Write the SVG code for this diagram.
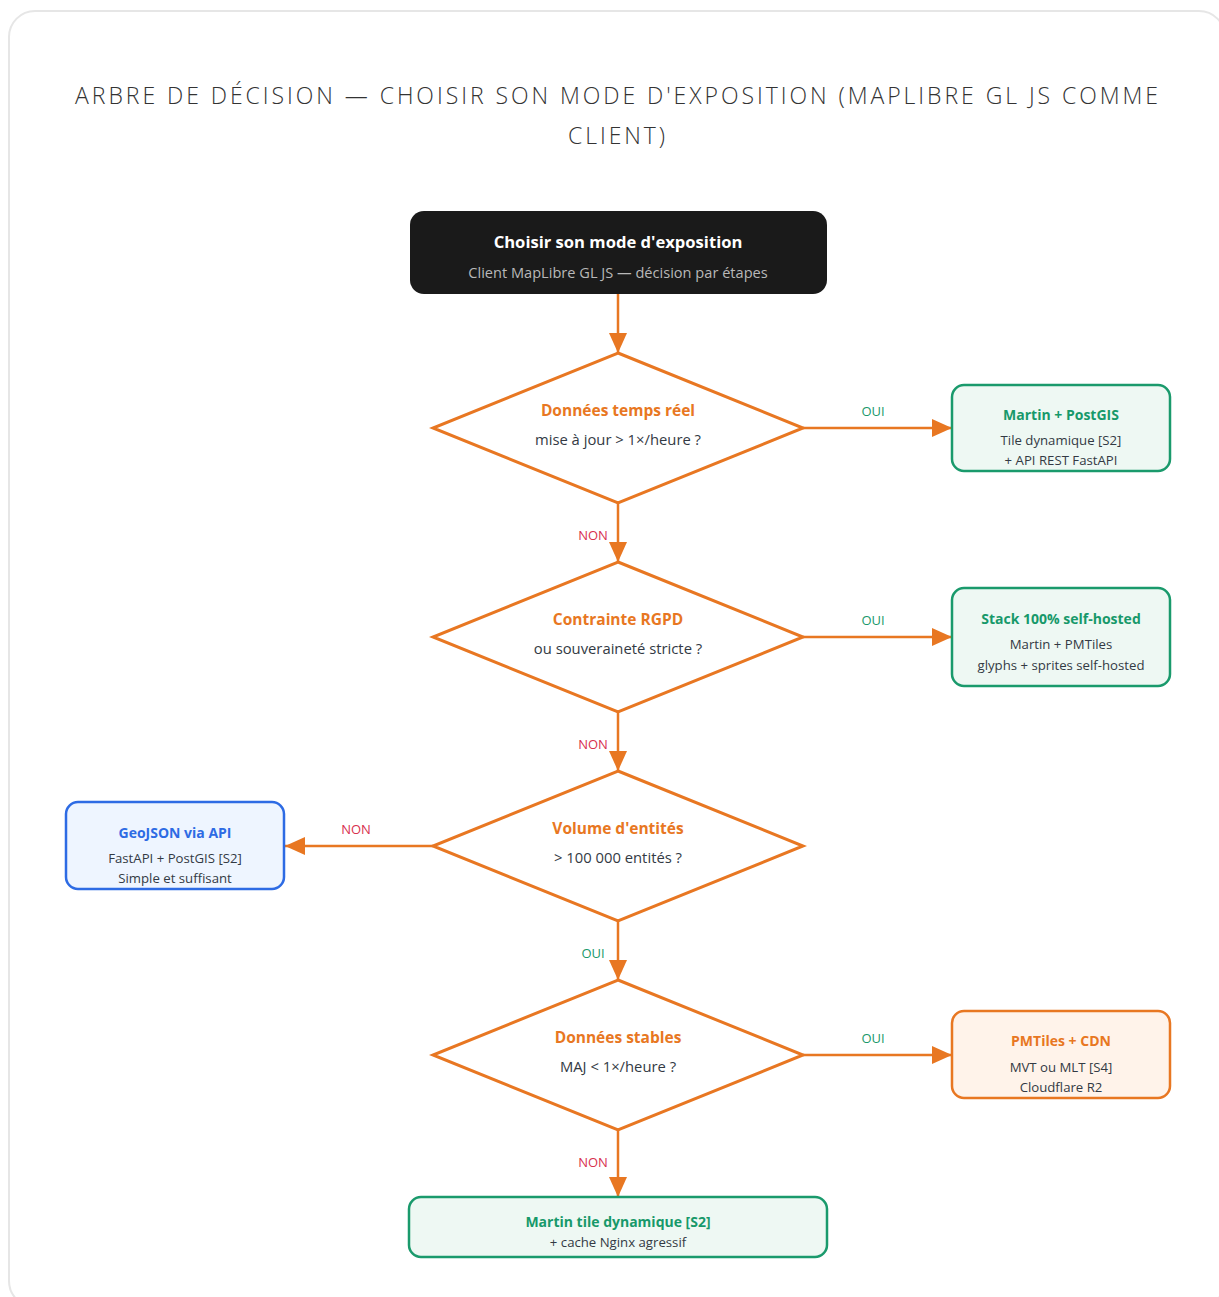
<svg xmlns="http://www.w3.org/2000/svg" width="1219" height="1297" viewBox="0 0 1219 1297">
<defs>
<style>
text{font-family:"Open Sans","Noto Sans","Liberation Sans",sans-serif;text-anchor:middle}
.title{font-size:23px;font-weight:300;fill:#333;letter-spacing:2.95px}
.dia{fill:#fff;stroke:#e87722;stroke-width:3;stroke-linejoin:miter}
.dq{font-size:15.5px;font-weight:700;fill:#e87722}
.ds{font-size:14.8px;fill:#333a44}
.bt{font-size:14px;font-weight:700}
.bs{font-size:13.2px;fill:#333a44}
.edge{stroke:#e87722;stroke-width:2.5;fill:none}
.oui{font-size:13px;fill:#18996a}
.non{font-size:13px;fill:#d8304e}
.green{fill:#eef8f3;stroke:#1a9a6c;stroke-width:2.5}
.gt{fill:#17996a}
</style>
<marker id="ah" markerUnits="userSpaceOnUse" markerWidth="20" markerHeight="18" refX="20" refY="9" orient="auto">
<path d="M0,0 L20,9 L0,18 Z" fill="#e87722"/>
</marker>
</defs>
<rect x="9" y="11" width="1216" height="1296" rx="26" fill="#fff" stroke="#e6e6e6" stroke-width="2"/>
<text class="title" x="618" y="104">ARBRE DE DÉCISION — CHOISIR SON MODE D'EXPOSITION (MAPLIBRE GL JS COMME</text>
<text class="title" x="618" y="144">CLIENT)</text>

<g id="connectors">
<line class="edge" x1="618" y1="294" x2="618" y2="353" marker-end="url(#ah)"/>
<line class="edge" x1="803" y1="428" x2="952" y2="428" marker-end="url(#ah)"/>
<text class="oui" x="873" y="416">OUI</text>
<line class="edge" x1="618" y1="503" x2="618" y2="562" marker-end="url(#ah)"/>
<text class="non" x="593" y="540">NON</text>
<line class="edge" x1="803" y1="637" x2="952" y2="637" marker-end="url(#ah)"/>
<text class="oui" x="873" y="625">OUI</text>
<line class="edge" x1="618" y1="712" x2="618" y2="771" marker-end="url(#ah)"/>
<text class="non" x="593" y="749">NON</text>
<line class="edge" x1="433" y1="846" x2="285" y2="846" marker-end="url(#ah)"/>
<text class="non" x="356" y="834">NON</text>
<line class="edge" x1="618" y1="921" x2="618" y2="980" marker-end="url(#ah)"/>
<text class="oui" x="593" y="958">OUI</text>
<line class="edge" x1="803" y1="1055" x2="952" y2="1055" marker-end="url(#ah)"/>
<text class="oui" x="873" y="1043">OUI</text>
<line class="edge" x1="618" y1="1130" x2="618" y2="1197" marker-end="url(#ah)"/>
<text class="non" x="593" y="1167">NON</text>
</g>

<g id="start">
<rect x="410" y="211" width="417" height="83" rx="14" fill="#1a1a1a"/>
<text x="618" y="248" style="font-size:16.6px;font-weight:700;fill:#fff">Choisir son mode d'exposition</text>
<text x="618" y="278" style="font-size:14.6px;fill:#b8b8b8">Client MapLibre GL JS — décision par étapes</text>
</g>

<g id="q1">
<polygon class="dia" points="618,353 803,428 618,503 433,428"/>
<text class="dq" x="618" y="416">Données temps réel</text>
<text class="ds" x="618" y="445">mise à jour &gt; 1×/heure ?</text>
</g>

<g id="q2">
<polygon class="dia" points="618,562 803,637 618,712 433,637"/>
<text class="dq" x="618" y="625">Contrainte RGPD</text>
<text class="ds" x="618" y="654">ou souveraineté stricte ?</text>
</g>

<g id="q3">
<polygon class="dia" points="618,771 803,846 618,921 433,846"/>
<text class="dq" x="618" y="834">Volume d'entités</text>
<text class="ds" x="618" y="863">&gt; 100 000 entités ?</text>
</g>

<g id="q4">
<polygon class="dia" points="618,980 803,1055 618,1130 433,1055"/>
<text class="dq" x="618" y="1043">Données stables</text>
<text class="ds" x="618" y="1072">MAJ &lt; 1×/heure ?</text>
</g>

<g id="martin-postgis">
<rect class="green" x="952" y="385" width="218" height="86" rx="12"/>
<text class="bt gt" x="1061" y="420">Martin + PostGIS</text>
<text class="bs" x="1061" y="445">Tile dynamique [S2]</text>
<text class="bs" x="1061" y="465">+ API REST FastAPI</text>
</g>

<g id="self-hosted">
<rect class="green" x="952" y="588" width="218" height="98" rx="12"/>
<text class="bt gt" x="1061" y="624">Stack 100% self-hosted</text>
<text class="bs" x="1061" y="649">Martin + PMTiles</text>
<text class="bs" x="1061" y="670">glyphs + sprites self-hosted</text>
</g>

<g id="geojson">
<rect x="66" y="802" width="218" height="87" rx="12" fill="#eef5ff" stroke="#2d6be4" stroke-width="2.5"/>
<text class="bt" x="175" y="838" style="fill:#2d6be4">GeoJSON via API</text>
<text class="bs" x="175" y="863">FastAPI + PostGIS [S2]</text>
<text class="bs" x="175" y="883">Simple et suffisant</text>
</g>

<g id="pmtiles">
<rect x="952" y="1011" width="218" height="87" rx="12" fill="#fff3ea" stroke="#e87722" stroke-width="2.5"/>
<text class="bt" x="1061" y="1046" style="fill:#e87722">PMTiles + CDN</text>
<text class="bs" x="1061" y="1072">MVT ou MLT [S4]</text>
<text class="bs" x="1061" y="1092">Cloudflare R2</text>
</g>

<g id="martin-cache">
<rect class="green" x="409" y="1197" width="418" height="60" rx="12"/>
<text class="bt gt" x="618" y="1227">Martin tile dynamique [S2]</text>
<text class="bs" x="618" y="1247">+ cache Nginx agressif</text>
</g>
</svg>
